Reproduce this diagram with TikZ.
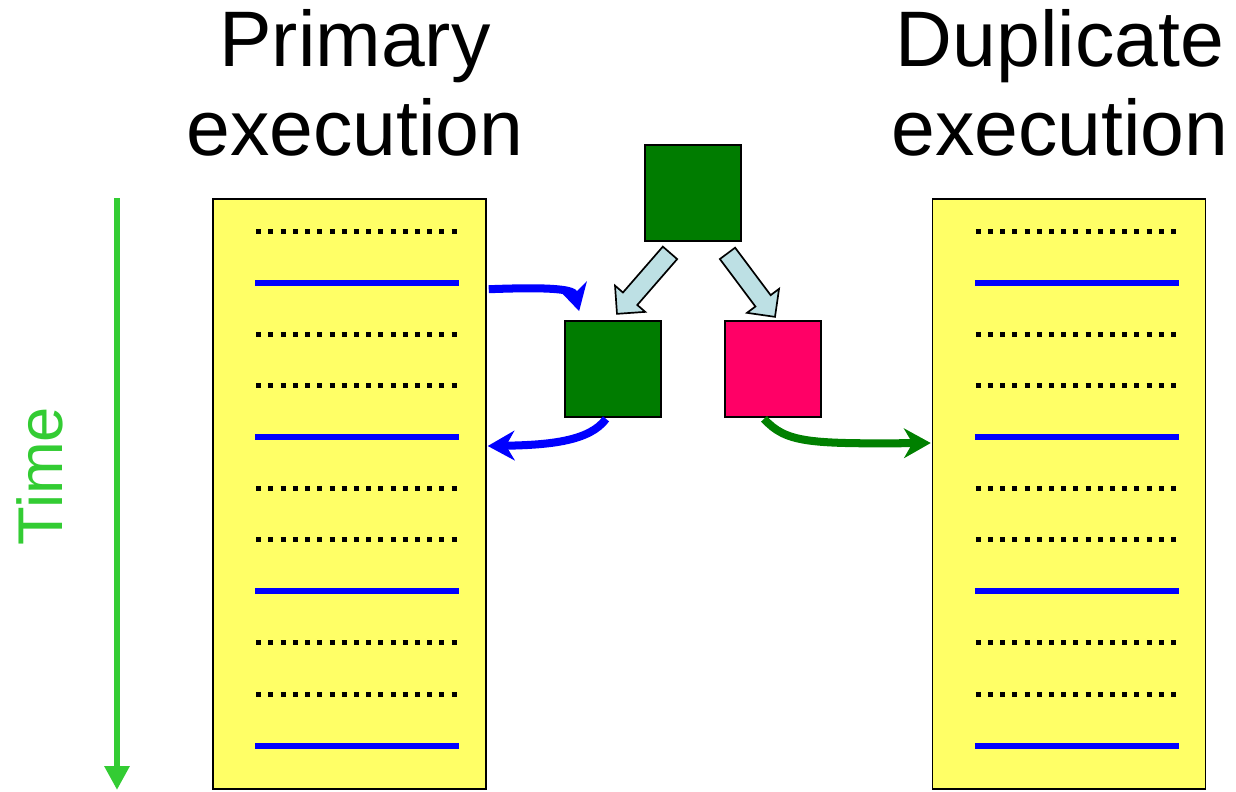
\documentclass[tikz,border=0pt]{standalone}
\usepackage{fontspec}
\setmainfont{Liberation Sans}
\usetikzlibrary{arrows.meta,calc}

\definecolor{laneyellow}{HTML}{FFFF66}
\definecolor{taskgreen}{HTML}{007C00}
\definecolor{taskpink}{HTML}{FF0066}
\definecolor{splitblue}{HTML}{BDE0E4}
\definecolor{timegreen}{HTML}{33CC33}
\definecolor{flowgreen}{HTML}{008000}

\begin{document}
\begin{tikzpicture}[x=0.025cm,y=-0.025cm,
    heading/.style={font=\fontsize{56}{62.6}\selectfont, align=center, inner sep=0pt},
    lane/.style={draw=black, line width=1pt, fill=laneyellow, minimum width=6.825cm, minimum height=14.75cm, inner sep=0pt},
    task/.style={draw=black, line width=1.2pt, minimum size=2.4cm, inner sep=0pt},
    dotrow/.style={line width=3.56pt, dash pattern=on 3.56pt off 5.12pt},
    bluerow/.style={blue, line width=4.2pt},
    split/.style={draw=black, line width=1.2pt, fill=splitblue, line join=miter},
    flow/.style={line width=5.7pt, -{Stealth[length=19pt,width=21pt,inset=6pt]}}]

    \useasboundingbox (0,0) rectangle (1236,791);

    % Headings
    \node[heading, anchor=base] (hprim) at (355,155) {Primary\\execution};
    \node[heading, anchor=base] (hdupl) at (1060,155) {Duplicate\\execution};

    % Time axis
    \coordinate (ttop) at (117,198);
    \coordinate (tbot) at (117,790);
    \draw[timegreen, line width=4.3pt, -{Triangle[length=17pt,width=17pt]}] (ttop) -- (tbot);
    \node[timegreen, rotate=90, font=\fontsize{45}{54}\selectfont, inner sep=0pt] (time) at (40,476) {Time};

    % Lanes
    \node[lane] (prim) at (349.5,494) {};
    \node[lane] (dupl) at (1069,494) {};

    \foreach \lane in {prim,dupl} {
      \foreach \k in {0,2,3,5,6,8,9}
        \draw[dotrow] ($(\lane.north west)+(44,33+51.45*\k)$) -- ++(201,0);
      \foreach \k in {1,4,7,10}
        \draw[bluerow] ($(\lane.north west)+(43,33+51.45*\k)$) -- ++(204,0);
    }

    % Tasks
    \node[task, fill=taskgreen] (src) at (693,193) {};
    \node[task, fill=taskgreen] (cmp) at (613,369) {};
    \node[task, fill=taskpink] (dup) at (773,369) {};

    % Split arrows
    \draw[split, shift={($(src.south)+(-23,11)$)}, rotate=-131]
      (0,-9.5) -- (60.8,-9.5) -- (60.8,-20) -- (80.8,0) -- (60.8,20) -- (60.8,9.5) -- (0,9.5) -- cycle;
    \draw[split, shift={($(src.south)+(34.5,11.5)$)}, rotate=-53.2]
      (0,-9.5) -- (59.3,-9.5) -- (59.3,-20) -- (79.3,0) -- (59.3,20) -- (59.3,9.5) -- (0,9.5) -- cycle;

    % Flows
    \draw[flow, blue] ($(prim.north east)+(2,91)$) .. controls +(52,-2) and +(-6,-23) .. ($(cmp.north west)+(15,-9)$);
    \draw[flow, blue] ($(cmp.south)+(-7,1)$) .. controls +(-16,22) and +(63,-1) .. ($(prim.east)+(1,-48)$);
    \draw[flow, flowgreen] ($(dup.south)+(-9,1)$) .. controls +(22,24) and +(-122,1) .. ($(dupl.west)+(-1,-51)$);
\end{tikzpicture}
\end{document}
